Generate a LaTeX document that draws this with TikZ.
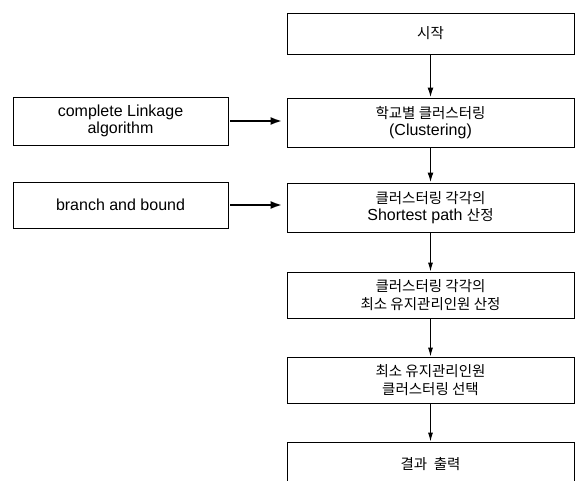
\documentclass[tikz,border=0pt]{standalone}
\usepackage{fontspec}
\setmainfont{Liberation Sans}
\newfontfamily\kr{Noto Sans CJK KR}
\newcommand{\K}[1]{{\kr\fontsize{14.5pt}{17.5pt}\selectfont #1}}
\usetikzlibrary{arrows.meta}
\tikzset{
  txt/.style={font=\fontsize{16pt}{17.5pt}\selectfont},
  box/.style={draw, line width=0.9pt, minimum width=287pt, align=center, inner sep=0pt, txt},
  lbox/.style={draw, line width=0.9pt, minimum width=215pt, align=center, inner sep=0pt, txt},
  thinarr/.style={line width=1pt, -{Latex[length=9pt,width=5pt]}},
  thickarr/.style={line width=1.6pt, -{Latex[length=10pt,width=6pt]}},
  sidearr/.style={line width=2.4pt, -{Latex[length=12pt,width=8pt]}}
}
\begin{document}
\begin{tikzpicture}[x=1pt,y=-1pt]
\useasboundingbox (0,0) rectangle (576,481);
\clip (0,0) rectangle (576,481);
\node[box, minimum height=41pt] (s) at (430.5,33.5) {\K{시작}};
\node[box, minimum height=49pt] (b2) at (430.5,122.5) {\K{학교별 클러스터링}\\(Clustering)};
\node[box, minimum height=49pt] (b3) at (430.5,207.5) {\K{클러스터링 각각의}\\Shortest path \K{산정}};
\node[box, minimum height=46pt] (b4) at (430.5,295) {\K{클러스터링 각각의}\\\K{최소 유지관리인원 산정}};
\node[box, minimum height=46pt] (b5) at (430.5,380) {\K{최소 유지관리인원}\\\K{클러스터링 선택}};
\node[box, minimum height=70pt] (b6) at (430.5,477) {};
\node[txt] (t6) at (430.5,464) {\K{결과\ \ 출력}};
\node[lbox, minimum height=48pt] (la) at (120.5,121) {complete Linkage\\algorithm};
\node[lbox, minimum height=46pt] (lb) at (120.5,205) {branch and bound};
\draw[thickarr] (s) -- (b2);
\draw[thickarr] (b2) -- (b3);
\draw[thinarr] (b3) -- (b4);
\draw[thinarr] (b4) -- (b5);
\draw[thinarr] (b5) -- (b6);
\draw[sidearr] ([xshift=2pt]la.east) -- ([xshift=-4pt]la.east -| b2.west);
\draw[sidearr] ([xshift=2pt]lb.east) -- ([xshift=-4pt]lb.east -| b3.west);
\end{tikzpicture}
\end{document}
